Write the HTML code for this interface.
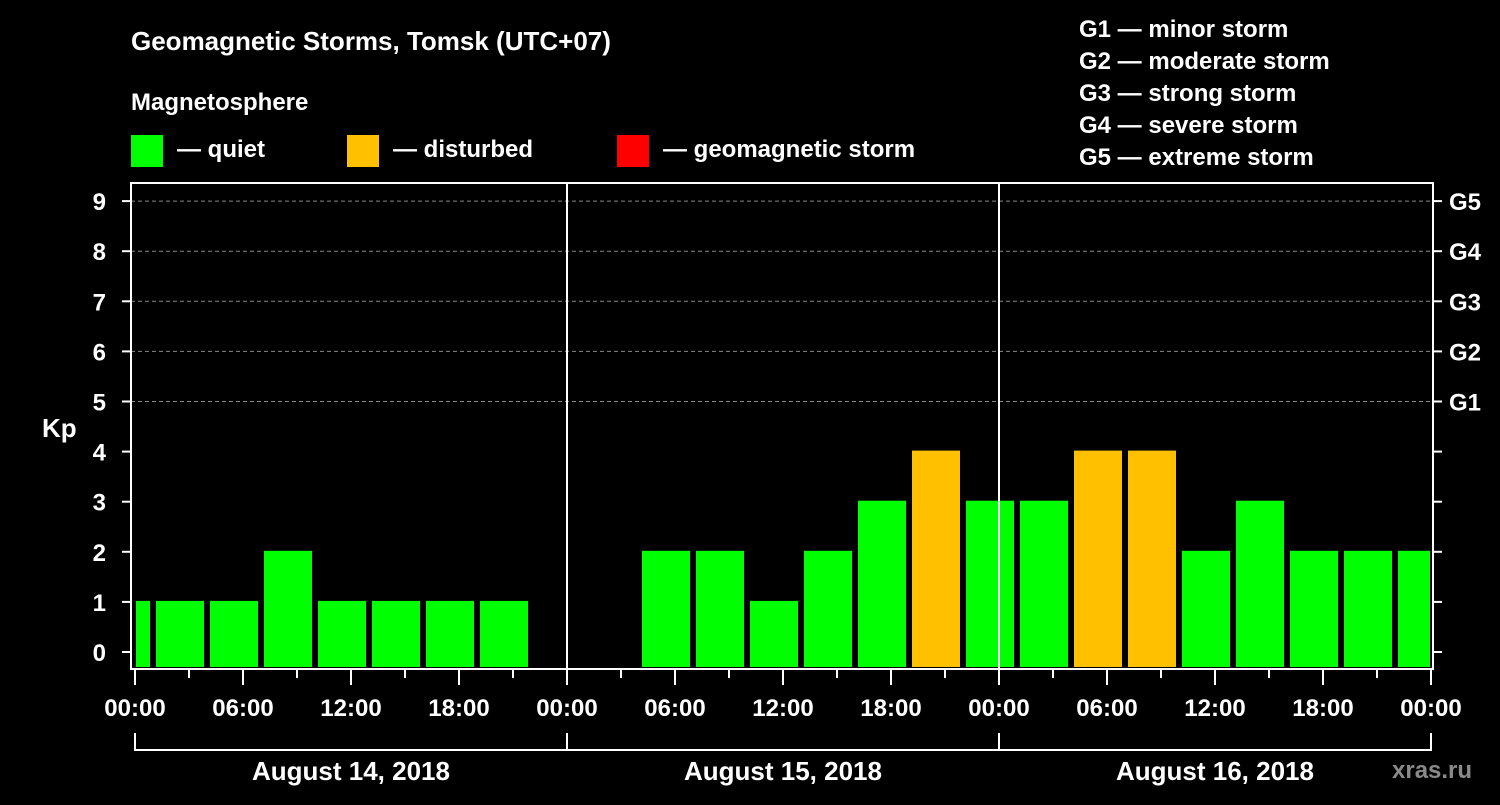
<!DOCTYPE html>
<html><head><meta charset="utf-8"><style>
html,body{margin:0;padding:0;background:#000;}
svg text{font-family:"Liberation Sans",sans-serif;font-weight:bold;fill:#fff;}
</style></head><body>
<svg id="chart" width="1500" height="800" xmlns="http://www.w3.org/2000/svg">
<rect width="1500" height="800" fill="#000"/>
<text x="131" y="50" font-size="26">Geomagnetic Storms, Tomsk (UTC+07)</text>
<text x="131" y="110" font-size="24">Magnetosphere</text>
<g><rect x="131" y="135" width="32" height="32" fill="#00ff00"/><text x="177" y="157" font-size="24">— quiet</text></g>
<g><rect x="347" y="135" width="32" height="32" fill="#ffc000"/><text x="393" y="157" font-size="24">— disturbed</text></g>
<g><rect x="617" y="135" width="32" height="32" fill="#ff0000"/><text x="663" y="157" font-size="24">— geomagnetic storm</text></g>
<g font-size="24">
<text x="1079" y="37">G1 — minor storm</text>
<text x="1079" y="69">G2 — moderate storm</text>
<text x="1079" y="101">G3 — strong storm</text>
<text x="1079" y="133">G4 — severe storm</text>
<text x="1079" y="165">G5 — extreme storm</text>
</g>
<text x="42" y="437" font-size="26">Kp</text>
<text x="1392" y="778" font-size="24" fill="#888" style="fill:#8a8a8a">xras.ru</text>
<g id="grid"></g><g id="bars"></g><g id="axes"></g>
</svg>
<script>
const days=["August 14, 2018","August 15, 2018","August 16, 2018"];
const kpValues=[1,1,1,2,1,1,1,1,null,null,2,2,1,2,3,4,3,3,4,4,2,3,2,2,2];
const yTicks=[0,1,2,3,4,5,6,7,8,9];
const gLabels=["G1","G2","G3","G4","G5"];
const xTickLabels=["00:00","06:00","12:00","18:00"];
const NS="http://www.w3.org/2000/svg";
const X0=135,DAYW=432,L=131,R=1433,T=183,B=669,BB=667;
const xs=h=>X0+h*DAYW/24;
const ys=v=>652-v*50.1;
function mk(tag,attrs,parent,txt){const e=document.createElementNS(NS,tag);for(const k in attrs)e.setAttribute(k,attrs[k]);if(txt!==undefined)e.textContent=txt;parent.appendChild(e);return e;}
const grid=document.getElementById('grid'),bars=document.getElementById('bars'),axes=document.getElementById('axes');
yTicks.forEach(v=>{
 if(v>=5){const l=mk('line',{x1:L,x2:R,y1:ys(v),y2:ys(v),stroke:'#888','stroke-dasharray':'4,3','stroke-width':1},grid);
 
 }
 const t=mk('text',{x:106,y:ys(v)+9,'font-size':24,'text-anchor':'end'},axes,String(v));
 
 
 mk('line',{x1:L-9,x2:L,y1:ys(v),y2:ys(v),stroke:'#fff','stroke-width':2},axes);
 mk('line',{x1:R,x2:R+9,y1:ys(v),y2:ys(v),stroke:'#fff','stroke-width':2},axes);
 if(v>=5){const g=mk('text',{x:1449,y:ys(v)+9,'font-size':24},axes,gLabels[v-5]);
 
 }
});
kpValues.forEach((v,i)=>{
 if(v===null)return;
 const h0=-2+3*i,h1=h0+3;
 let x1=Math.max(xs(h0)+3,X0+1),x2=Math.min(xs(h1)-3,R-3);
 const col=v>=5?'#ff0000':(v>=4?'#ffc000':'#00ff00');
 const r=mk('rect',{x:x1,y:ys(v)-1,width:x2-x1,height:BB-ys(v)+1,fill:col},bars);
 
 
});
const frame=mk('rect',{x:L,y:T,width:R-L,height:B-T,fill:'none',stroke:'#fff','stroke-width':2},axes);


for(let d=1;d<days.length;d++){mk('line',{x1:xs(24*d),x2:xs(24*d),y1:T,y2:B,stroke:'#fff','stroke-width':2},axes);}
for(let h=0;h<=72;h+=3){const long=h%6===0;mk('line',{x1:xs(h),x2:xs(h),y1:B,y2:B+(long?16:9),stroke:'#fff','stroke-width':2},axes);
 if(long&&h%24===0||long){const lab=xTickLabels[(h%24)/6];const t=mk('text',{x:xs(h),y:716,'font-size':24,'text-anchor':'middle'},axes,lab);
 
 }}
days.forEach((d,i)=>{
 const a=xs(24*i),b=xs(24*(i+1));
 mk('path',{d:`M${a},733 V750 H${b} V733`,stroke:'#fff','stroke-width':2,fill:'none'},axes);
 const t=mk('text',{x:(a+b)/2,y:780,'font-size':26,'text-anchor':'middle'},axes,d);
 
 
});
</script>
</body></html>
